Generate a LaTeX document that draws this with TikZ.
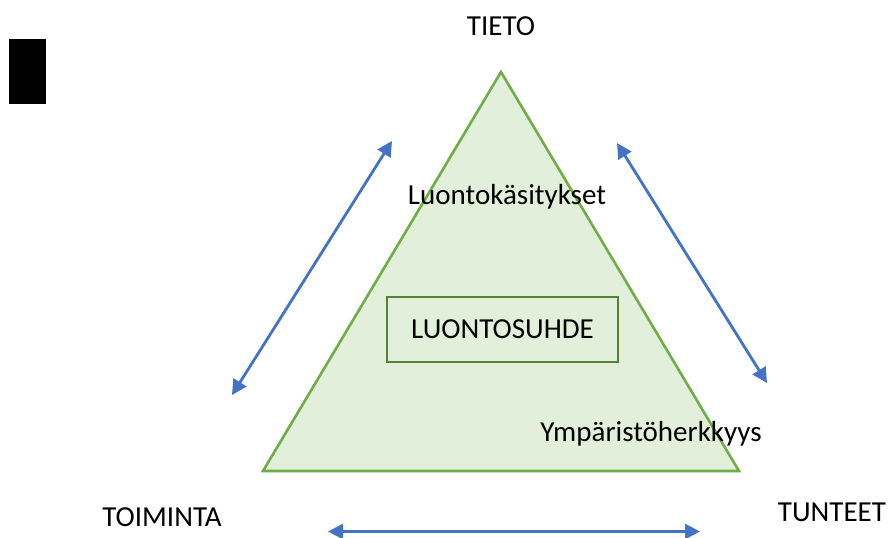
\documentclass[tikz,border=0pt]{standalone}
\usepackage{fontspec}
\setmainfont{Carlito}
\usetikzlibrary{arrows.meta}
\definecolor{trifill}{HTML}{E2EFDA}
\definecolor{tristroke}{HTML}{70AD47}
\definecolor{boxstroke}{HTML}{548235}
\definecolor{arrowblue}{HTML}{4472C4}
\tikzset{
  lbl/.style={font=\fontsize{29}{34}\selectfont, inner sep=0pt, anchor=center},
  dbl/.style={arrowblue, line width=2.8pt, {Triangle[length=15pt,width=15pt]}-{Triangle[length=15pt,width=15pt]}},
}
\begin{document}
\begin{tikzpicture}[x=1pt,y=-1pt]
\useasboundingbox (0,0) rectangle (889,538);
% black rectangle
\fill[black] (9,39) rectangle (46,104);
% triangle
\coordinate (apex) at (501,72);
\coordinate (bl) at (263,471);
\coordinate (br) at (739,471);
\draw[tristroke, fill=trifill, line width=2.6pt, line join=miter] (apex) -- (br) -- (bl) -- cycle;
% box
\node[draw=boxstroke, line width=2.6pt, fill=trifill, minimum width=231pt, minimum height=65pt, inner sep=0pt,
  font=\fontsize{29}{34}\selectfont] (center) at (502.5,329.5) {LUONTOSUHDE};
% labels
\node[lbl] (tieto) at (501,26) {TIETO};
\node[lbl] (luonto) at (507,197) {Luontokäsitykset};
\node[lbl] (ymp) at (651,434) {Ympäristöherkkyys};
\node[lbl] (toim) at (162,517) {TOIMINTA};
\node[lbl] (tunt) at (832,512) {TUNTEET};
% arrows
\coordinate (l1) at (232,395);
\coordinate (l2) at (392,141);
\coordinate (r1) at (617,143);
\coordinate (r2) at (767,383);
\coordinate (b1) at (328,531.5);
\coordinate (b2) at (700,531.5);
\draw[dbl] (l1) -- (l2);
\draw[dbl] (r1) -- (r2);
\draw[dbl] (b1) -- (b2);
\end{tikzpicture}
\end{document}
